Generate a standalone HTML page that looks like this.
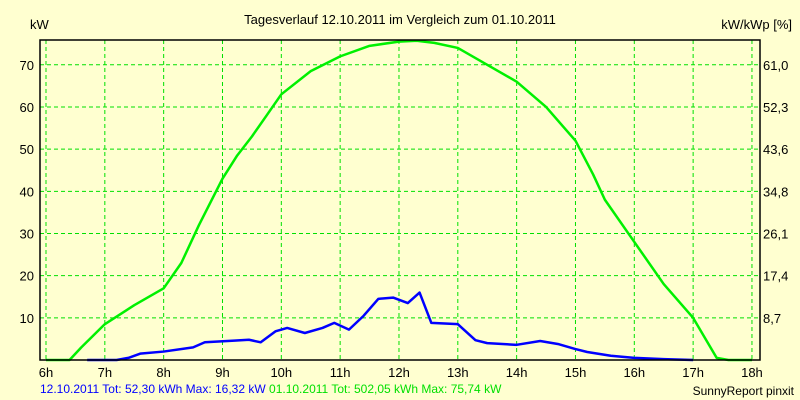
<!DOCTYPE html>
<html><head><meta charset="utf-8"><style>
html,body{margin:0;padding:0;background:#ffffd0;}
svg{display:block;font-family:"Liberation Sans",sans-serif;}
</style></head><body>
<svg id="chart" width="800" height="400">
<rect x="0" y="0" width="800" height="400" fill="#ffffd0"/>
<text x="400" y="24" font-size="13" text-anchor="middle" fill="#000">Tagesverlauf 12.10.2011 im Vergleich zum 01.10.2011</text>
<text x="30" y="29" font-size="13" fill="#000">kW</text>
<text x="792" y="29" font-size="13" text-anchor="end" fill="#000">kW/kWp [%]</text>
<g id="grid"></g>
<g id="ticks"></g>
<g id="series"></g>
<rect x="40" y="40" width="720" height="320" fill="none" stroke="#000" stroke-width="1.5"/>
<text x="40" y="393" font-size="12" fill="#0000ff">12.10.2011 Tot: 52,30 kWh Max: 16,32 kW <tspan fill="#00e000">01.10.2011 Tot: 502,05 kWh Max: 75,74 kW</tspan></text>
<text x="794" y="395" font-size="12" text-anchor="end" fill="#000">SunnyReport pinxit</text>
</svg>
<script>
const hourTicks = [6,7,8,9,10,11,12,13,14,15,16,17,18];
const leftTicks = [10,20,30,40,50,60,70];
const rightTickLabels = ["8,7","17,4","26,1","34,8","43,6","52,3","61,0"];
const greenHours = [6.0,6.4,6.6,7.0,7.5,8.0,8.3,8.6,9.0,9.25,9.5,9.75,10.0,10.5,11.0,11.5,12.0,12.3,12.6,13.0,13.5,14.0,14.5,15.0,15.3,15.5,16.0,16.5,17.0,17.4,17.6,18.0];
const greenValues = [0,0,3,8.5,13,17,23,32,43,48.5,53,58,63,68.5,72,74.5,75.5,75.7,75.2,74,70,66,60,52,44,38,28,18,10,0.5,0,0];
const blueHours = [6.7,7.2,7.4,7.6,8.0,8.5,8.7,9.2,9.45,9.65,9.9,10.1,10.4,10.7,10.9,11.15,11.4,11.65,11.9,12.15,12.35,12.55,13.0,13.3,13.5,14.0,14.4,14.7,15.0,15.2,15.6,16.0,16.5,17.0];
const blueValues = [0,0,0.5,1.5,2,3,4.2,4.6,4.8,4.2,6.8,7.6,6.4,7.6,8.8,7.2,10.5,14.5,14.8,13.5,16,8.8,8.5,4.7,4,3.6,4.5,3.8,2.6,1.9,1.0,0.5,0.2,0];
const X = h => 46 + (h - 6) * 58.83;
const Y = v => 360 - v * 4.217;
const NS = "http://www.w3.org/2000/svg";
const grid = document.getElementById('grid'), ticks = document.getElementById('ticks'), series = document.getElementById('series');
function mk(tag, attrs, parent){const e=document.createElementNS(NS,tag);for(const k in attrs)e.setAttribute(k,attrs[k]);parent.appendChild(e);return e;}
hourTicks.forEach(h=>{
  const l=mk('line',{x1:X(h),x2:X(h),y1:40,y2:360,stroke:'#00e000','stroke-dasharray':'4,3'},grid);
  
  
  const t=mk('text',{x:X(h),y:377,'font-size':13,'text-anchor':'middle',fill:'#000'},ticks);
  t.textContent=h+'h';
  
  
});
leftTicks.forEach((v,i)=>{
  const l=mk('line',{x1:40,x2:760,y1:Y(v),y2:Y(v),stroke:'#00e000','stroke-dasharray':'4,3'},grid);
  
  
  const t=mk('text',{x:34,y:Y(v)+5,'font-size':13,'text-anchor':'end',fill:'#000'},ticks);
  t.textContent=v;
  
  
  const r=mk('text',{x:763,y:Y(v)+5,'font-size':13,fill:'#000'},ticks);
  r.textContent=rightTickLabels[i];
  
  
});
const g=mk('polyline',{points:greenHours.map((h,i)=>X(h)+','+Y(greenValues[i])).join(' '),fill:'none',stroke:'#00f000','stroke-width':2.5,'stroke-linejoin':'round'},series);


const b=mk('polyline',{points:blueHours.map((h,i)=>X(h)+','+Y(blueValues[i])).join(' '),fill:'none',stroke:'#0000ff','stroke-width':2.5,'stroke-linejoin':'round'},series);


</script>
</body></html>
